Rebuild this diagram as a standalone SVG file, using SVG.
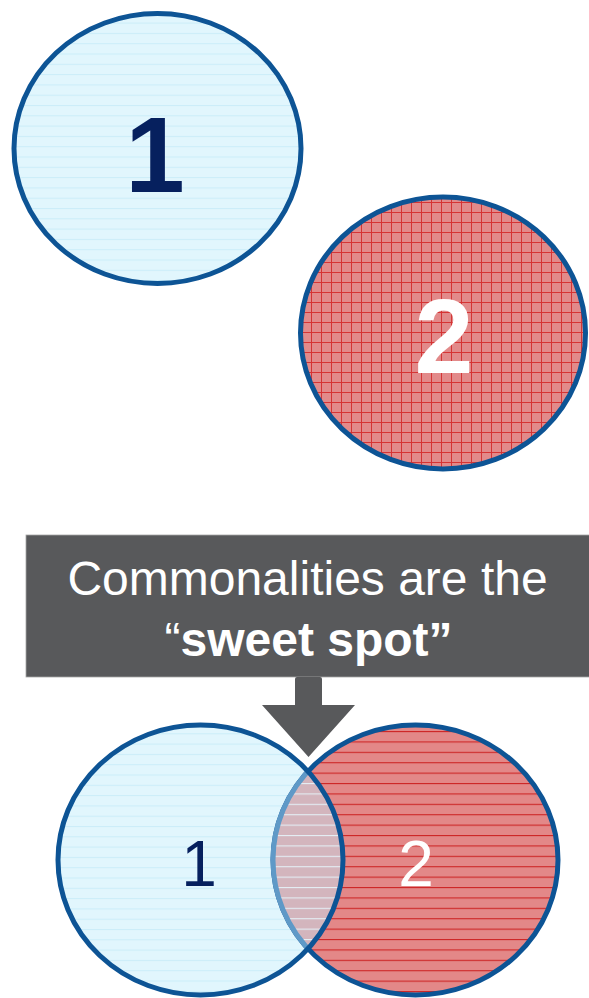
<svg xmlns="http://www.w3.org/2000/svg" width="589" height="998" viewBox="0 0 589 998">
  <style>
    .lbl { font-family: "Liberation Sans", Arial, sans-serif; text-anchor: middle; }
    .ring { fill: none; stroke: #0d5495; stroke-width: 5; }
  </style>
  <defs>
    <pattern id="pBlue" patternUnits="userSpaceOnUse" x="0" y="2" width="10" height="10.3">
      <rect width="10" height="10.3" fill="#e1f6fd"/>
      <rect width="10" height="1" fill="#cbedf9"/>
    </pattern>
    <pattern id="pGrid" patternUnits="userSpaceOnUse" x="1" y="2" width="10" height="10">
      <rect width="10" height="10" fill="#e28a8a"/>
      <rect width="10" height="1" fill="#d53434"/>
      <rect width="1" height="10" fill="#d53434"/>
    </pattern>
    <pattern id="pRed" patternUnits="userSpaceOnUse" x="0" y="3" width="10" height="10.4">
      <rect width="10" height="10.4" fill="#e38888"/>
      <rect width="10" height="1.1" fill="#cd2626"/>
    </pattern>
    <pattern id="pLens" patternUnits="userSpaceOnUse" x="0" y="3" width="10" height="10.4">
      <rect width="10" height="10.4" fill="#d3b5bd"/>
      <rect width="10" height="1.1" fill="#e4eef4"/>
    </pattern>
    <clipPath id="clipLeft">
      <ellipse cx="200.5" cy="860" rx="142.5" ry="135"/>
    </clipPath>
  </defs>

  <g id="node-circle-1">
    <ellipse cx="157.5" cy="148.5" rx="143.5" ry="135" fill="url(#pBlue)"/>
    <ellipse class="ring" cx="157.5" cy="148.5" rx="143.5" ry="135"/>
    <text class="lbl" x="155" y="192" font-size="107" font-weight="bold" fill="#06205e">1</text>
  </g>

  <g id="node-circle-2">
    <ellipse cx="443" cy="333" rx="142.5" ry="136" fill="url(#pGrid)"/>
    <ellipse class="ring" cx="443" cy="333" rx="142.5" ry="136"/>
    <text class="lbl" x="444" y="373" font-size="106" font-weight="bold" fill="#ffffff">2</text>
  </g>

  <g id="node-callout">
    <rect x="26" y="535" width="564" height="142" fill="#58595b" stroke="#a6a6a6" stroke-width="0.8"/>
    <text class="lbl" x="307.5" y="595" font-size="48" fill="#ffffff">Commonalities are the</text>
    <text class="lbl" x="308.5" y="656" font-size="48" fill="#ffffff"><tspan>“</tspan><tspan font-weight="bold">sweet spot”</tspan></text>
  </g>

  <g id="connectors">
    <path d="M297 677 L320 677 Q322 677 322 679 L322 705 L355 705 L308.5 757 L262 705 L295 705 L295 679 Q295 677 297 677 Z" fill="#58595b"/>
  </g>

  <g id="node-venn">
    <g id="venn-left-fill">
      <ellipse cx="200.5" cy="860" rx="142.5" ry="135" fill="url(#pBlue)"/>
    </g>
    <g id="venn-right">
      <ellipse cx="415.5" cy="860" rx="142.5" ry="135" fill="url(#pRed)"/>
      <ellipse class="ring" cx="415.5" cy="860" rx="142.5" ry="135"/>
    </g>
    <g id="venn-overlap" clip-path="url(#clipLeft)">
      <ellipse cx="415.5" cy="860" rx="142.5" ry="135" fill="url(#pLens)"/>
      <ellipse cx="415.5" cy="860" rx="142.5" ry="135" fill="none" stroke="#5f99c7" stroke-width="5"/>
    </g>
    <ellipse class="ring" cx="200.5" cy="860" rx="142.5" ry="135"/>
    <text class="lbl" x="199" y="886" font-size="64" fill="#06205e">1</text>
    <text class="lbl" x="416" y="886" font-size="64" fill="#ffffff">2</text>
  </g>
</svg>
